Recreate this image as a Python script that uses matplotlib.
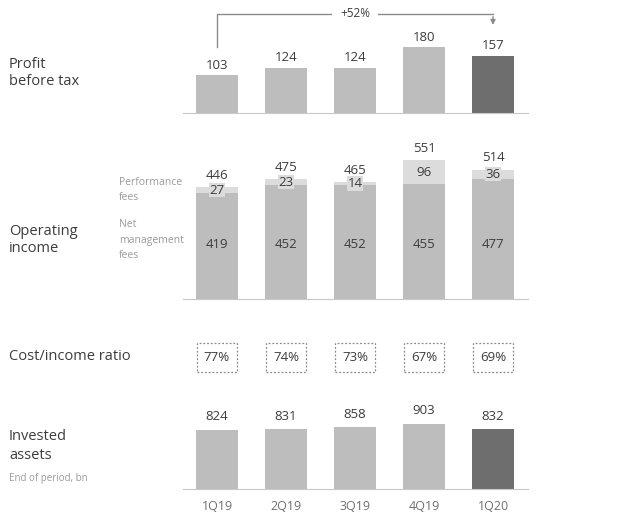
import numpy as np
import matplotlib.pyplot as plt
from matplotlib.patches import FancyArrowPatch

# data
quarters = ["1Q19", "2Q19", "3Q19", "4Q19", "1Q20"]
profit = [103, 124, 124, 180, 157]
net_fees = [419, 452, 452, 455, 477]
perf_fees = [27, 23, 14, 96, 36]
op_income = [446, 475, 465, 551, 514]
cost_income = ["77%", "74%", "73%", "67%", "69%"]
invested = [824, 831, 858, 903, 832]

LIGHT = "#bdbdbd"
LIGHTER = "#dcdcdc"
DARK = "#6e6e6e"
TXT = "#3c3c3c"
GREY = "#9a9a9a"

plt.rcParams["font.family"] = ["Open Sans", "DejaVu Sans"]

W, H = 633, 515
fig = plt.figure(figsize=(W / 100, H / 100), dpi=100)
x = np.arange(len(quarters))
colors = [LIGHT] * 4 + [DARK]


def panel(top, bottom):
    # axes in pixel coordinates (top/bottom measured from the top of the image)
    ax = fig.add_axes([182.5 / W, 1 - bottom / H, 345 / W, (bottom - top) / H])
    ax.set_xlim(-0.5, 4.5)
    for s in ["top", "right", "left"]:
        ax.spines[s].set_visible(False)
    ax.spines["bottom"].set_color("#c8c8c8")
    ax.set_yticks([])
    ax.set_xticks([])
    return ax


# profit before tax
ax1 = panel(0, 113)
ax1.set_ylim(0, 310)
ax1.bar(x, profit, width=0.61, color=colors)
for xi, v in zip(x, profit):
    ax1.text(xi, v + 10, str(v), ha="center", va="bottom", fontsize=9.5, color=TXT)
ax1.plot([0, 0, 4], [181, 272, 272], color="#8a8a8a", lw=1, clip_on=False)
ax1.add_patch(FancyArrowPatch((4, 272), (4, 234), arrowstyle="-|>", mutation_scale=7,
                              color="#8a8a8a", lw=1, clip_on=False))
ax1.text(2, 272, "+52%", ha="center", va="center", fontsize=8.5, color=TXT,
         bbox=dict(fc="white", ec="none", pad=6))

# operating income
ax2 = panel(140, 299)
ax2.set_ylim(0, 631)
ax2.bar(x, net_fees, width=0.61, color=LIGHT)
ax2.bar(x, perf_fees, bottom=net_fees, width=0.61, color=LIGHTER)
for xi, n, p, t in zip(x, net_fees, perf_fees, op_income):
    ax2.text(xi, 215, str(n), ha="center", va="center", fontsize=9.5, color=TXT)
    ax2.text(xi, n + p / 2, str(p), ha="center", va="center", fontsize=9.5, color=TXT,
             bbox=dict(fc=LIGHTER, ec="none", pad=0.5))
    ax2.text(xi, t + 20, str(t), ha="center", va="bottom", fontsize=9.5, color=TXT)

# cost/income ratio
ax3 = panel(335, 380)
ax3.spines["bottom"].set_visible(False)
ax3.set_ylim(0, 1)
ax3.bar(x, [0.66] * 5, bottom=0.17, width=0.58, fill=False, edgecolor="#8a8a8a",
        linestyle=(0, (1.5, 1.5)), lw=0.9)
for xi, s in zip(x, cost_income):
    ax3.text(xi, 0.5, s, ha="center", va="center", fontsize=9.5, color=TXT)

# invested assets
ax4 = panel(410, 489)
ax4.set_ylim(0, 1097)
ax4.bar(x, invested, width=0.61, color=colors)
for xi, v in zip(x, invested):
    ax4.text(xi, v + 90, str(v), ha="center", va="bottom", fontsize=9.5, color=TXT)
ax4.set_xticks(x, quarters)
ax4.tick_params(axis="x", length=0, pad=8, labelsize=9, labelcolor="#707070")


# row labels on the left
def lab(px, py, s, size=10.5, color=TXT, ls=1.25):
    fig.text(px / W, 1 - py / H, s, fontsize=size, color=color, va="center",
             linespacing=ls)


lab(9, 73, "Profit\nbefore tax")
lab(9, 240, "Operating\nincome")
lab(9, 357, "Cost/income ratio")
lab(9, 446, "Invested\nassets", ls=1.45)
lab(9, 478, "End of period, bn", size=7, color=GREY)
lab(119, 190, "Performance\nfees", size=7.5, color=GREY, ls=1.5)
lab(119, 240, "Net\nmanagement\nfees", size=7.5, color=GREY, ls=1.6)

fig.savefig("out.png", dpi=100)
